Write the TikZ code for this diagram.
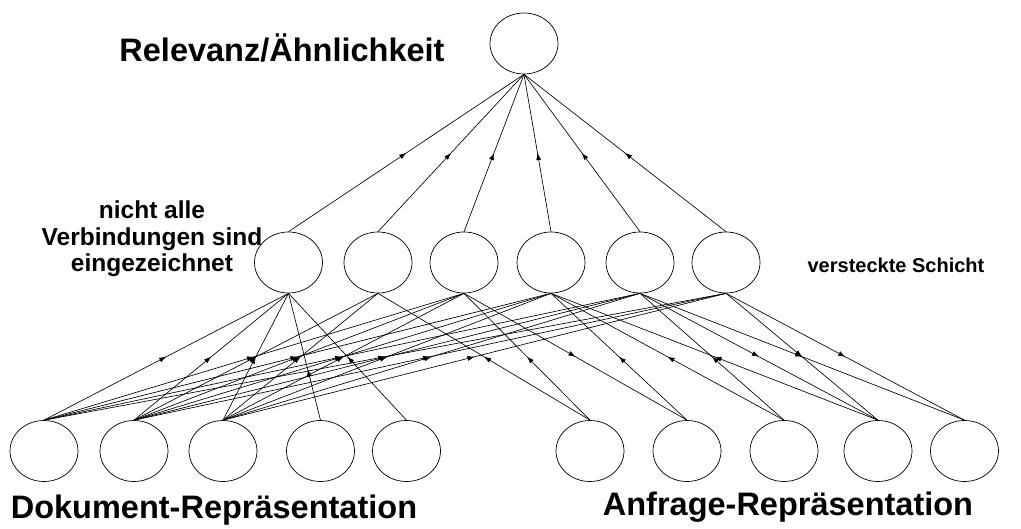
\documentclass[tikz,border=0pt]{standalone}
\usepackage{fontspec}
\setmainfont{Liberation Sans}
\usetikzlibrary{shapes.geometric,decorations.markings,arrows.meta}

\tikzset{
  unit/.style={draw,ellipse,minimum width=68pt,minimum height=61pt,inner sep=0pt,line width=0.7pt},
  link/.style={line width=0.65pt},
  midarrow/.style={link,decoration={markings,mark=at position #1 with {\arrow{Latex[length=7pt,width=5pt]}}},postaction={decorate}},
  midarrow/.default=0.5,
  bigtext/.style={font=\bfseries\fontsize{32.5}{39}\selectfont,inner sep=0pt},
  smalltext/.style={font=\bfseries\fontsize{24.5}{26.5}\selectfont,inner sep=0pt,align=center}
}

\begin{document}
\begin{tikzpicture}[x=1pt,y=-1pt]
  \useasboundingbox (0,0) rectangle (1021,529);
  % output unit
  \node[unit] (out) at (524,43.5) {};
  \node[bigtext] (outlabel) at (282,48) {Relevanz/Ähnlichkeit};
  % hidden layer
  \node[unit] (h1) at (288.5,262.5) {};
  \node[unit] (h2) at (378,262.5) {};
  \node[unit] (h3) at (464,262.5) {};
  \node[unit] (h4) at (551,262.5) {};
  \node[unit] (h5) at (640,262.5) {};
  \node[unit] (h6) at (726,262.5) {};
  \node[smalltext] (notelabel) at (152,239) {nicht alle\\Verbindungen sind\\eingezeichnet};
  \node[font=\bfseries\fontsize{20}{24}\selectfont,inner sep=0pt] (hiddenlabel) at (896,265) {versteckte Schicht};
  % document representation
  \node[unit] (d1) at (44,451) {};
  \node[unit] (d2) at (134,451) {};
  \node[unit] (d3) at (223,451) {};
  \node[unit] (d4) at (320.5,451) {};
  \node[unit] (d5) at (406.5,451) {};
  \node[bigtext] (doclabel) at (214,510) {Dokument-Repräsentation};
  % query representation
  \node[unit] (q1) at (590,451) {};
  \node[unit] (q2) at (687,451) {};
  \node[unit] (q3) at (784,451) {};
  \node[unit] (q4) at (878,451) {};
  \node[unit] (q5) at (964.5,451) {};
  \node[bigtext] (querylabel) at (788,507) {Anfrage-Repräsentation};

  % hidden -> output
  \draw[midarrow] (h1.north) -- (out.south);
  \draw[midarrow] (h2.north) -- (out.south);
  \draw[midarrow] (h3.north) -- (out.south);
  \draw[midarrow] (h4.north) -- (out.south);
  \draw[midarrow] (h5.north) -- (out.south);
  \draw[midarrow] (h6.north) -- (out.south);

  % document -> hidden
  \draw[midarrow] (d1.north) -- (h1.south);
  \draw[midarrow] (d1.north) -- (h3.south);
  \draw[midarrow] (d1.north) -- (h4.south);
  \draw[midarrow] (d1.north) -- (h5.south);
  \draw[midarrow] (d1.north) -- (h6.south);
  \draw[midarrow] (d2.north) -- (h1.south);
  \draw[midarrow] (d2.north) -- (h2.south);
  \draw[midarrow] (d2.north) -- (h3.south);
  \draw[midarrow] (d2.north) -- (h4.south);
  \draw[midarrow] (d2.north) -- (h5.south);
  \draw[midarrow] (d2.north) -- (h6.south);
  \draw[midarrow] (d3.north) -- (h1.south);
  \draw[midarrow] (d3.north) -- (h2.south);
  \draw[midarrow] (d3.north) -- (h3.south);
  \draw[midarrow] (d3.north) -- (h4.south);
  \draw[midarrow] (d3.north) -- (h5.south);
  \draw[midarrow] (d3.north) -- (h6.south);
  \draw[midarrow=0.4] (d4.north) -- (h1.south);
  \draw[midarrow] (d5.north) -- (h1.south);

  % query <-> hidden
  \draw[midarrow] (q1.north) -- (h2.south);
  \draw[midarrow] (q1.north) -- (h3.south);
  \draw[midarrow] (h3.south) -- (q2.north);
  \draw[midarrow] (q2.north) -- (h4.south);
  \draw[midarrow] (q3.north) -- (h4.south);
  \draw[midarrow] (q3.north) -- (h5.south);
  \draw[midarrow] (q4.north) -- (h4.south);
  \draw[midarrow] (h5.south) -- (q4.north);
  \draw[midarrow] (h5.south) -- (q5.north);
  \draw[midarrow] (h6.south) -- (q4.north);
  \draw[midarrow] (h6.south) -- (q5.north);
\end{tikzpicture}
\end{document}
